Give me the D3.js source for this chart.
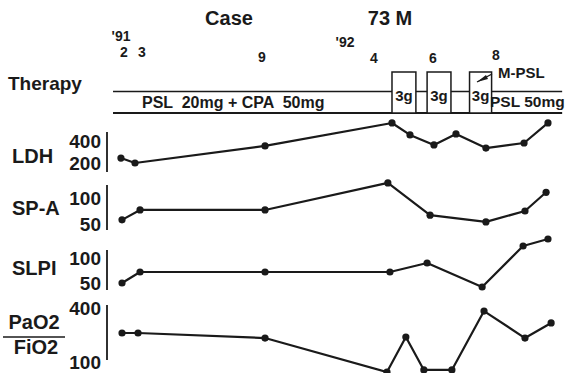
<!DOCTYPE html>
<html><head><meta charset="utf-8">
<script src="https://cdn.jsdelivr.net/npm/d3@7"></script>
<style>
html,body{margin:0;padding:0;background:#fff;}
svg text{font-family:"Liberation Sans",Arial,Helvetica,sans-serif;font-weight:bold;fill:#1a1a1a;white-space:pre;}
</style></head>
<body><svg id="c" width="567" height="373"></svg>
<script>
// ---- data ----
// time in months counted from Jan 1991 = 1 (so Apr 1992 = 16)
const monthLabels = ["2","3","9","4","6","8"];
const monthTimes  = [2, 3, 9, 16, 18, 20];
const yearLabels  = ["'91","'92"];
const yearTimes   = [2, 15.5];

const ldhTime  = [1.83, 2.61, 9.19, 16.61, 17.22, 18.03, 18.73, 19.68, 20.89, 21.65];
const ldhVal   = [245, 200, 355, 564, 455, 364, 464, 336, 382, 564];
const ldhTicks = [200, 400];

const spaTime  = [1.89, 2.89, 9.19, 16.47, 17.9, 19.68, 20.92, 21.59];
const spaVal   = [58, 77, 77, 129, 67, 54, 75, 111];
const spaTicks = [50, 100];

const slpiTime  = [1.89, 2.89, 9.19, 16.54, 17.8, 19.56, 20.86, 21.65];
const slpiVal   = [50, 72, 72, 72, 90, 42, 124, 138];
const slpiTicks = [50, 100];

const pfTime  = [1.89, 2.78, 9.19, 16.44, 17.08, 17.69, 18.6, 19.62, 20.92, 21.75];
const pfVal   = [261, 261, 233, 44, 239, 56, 56, 383, 233, 317];
const pfTicks = [100, 400];

// M-PSL pulses (start, end in months)
const pulseStart = [16.61, 17.8, 19.16];
const pulseEnd   = [17.42, 18.57, 19.86];
const pulseLabel = ["3g","3g","3g"];
const therapyStart = 1.39, therapyEnd = 22.1;

// ---- drawing ----
const svg = d3.select("#c");
const x = d3.scaleLinear().domain(monthTimes).range([124, 142, 262, 374, 433, 496]);

function txt(s, px, py, size, anchor) {
  return svg.append("text").attr("x", px).attr("y", py)
    .attr("font-size", size).attr("text-anchor", anchor || "start").text(s);
}

// title
txt("Case", 229, 25, 20, "middle");
txt("73 M", 390, 25, 20, "middle");

// time labels
const mOff = [57, 57, 62, 63, 63, 60];
monthLabels.forEach((m, i) => txt(m, x(monthTimes[i]), mOff[i], 14, "middle"));
const yOff = [41, 47];
const yX = [121, 345];
yearLabels.forEach((m, i) => txt(m, yX[i], yOff[i], 14, "middle"));

// therapy
txt("Therapy", 8, 90, 19);
const g = svg.append("g").attr("stroke", "#1a1a1a").attr("fill", "none");
g.append("line").attr("x1", x(therapyStart)).attr("x2", x(therapyEnd))
  .attr("y1", 91.5).attr("y2", 91.5).attr("stroke-width", 1.6);
g.append("line").attr("x1", x(therapyStart)).attr("x2", x(therapyEnd))
  .attr("y1", 113).attr("y2", 113).attr("stroke-width", 1.8);
pulseStart.forEach((s, i) => {
  g.append("rect").attr("x", x(s)).attr("y", 72)
    .attr("width", x(pulseEnd[i]) - x(s)).attr("height", 41)
    .attr("fill", "#fff").attr("stroke-width", 1.5);
  txt(pulseLabel[i], (x(s) + x(pulseEnd[i])) / 2, 101, 15, "middle");
});
txt("PSL  20mg + CPA  50mg", 142, 108, 16);
txt("PSL 50mg", 490, 107, 15.5);
txt("M-PSL", 498, 78, 15);
g.append("line").attr("x1", 477).attr("y1", 82).attr("x2", 492).attr("y2", 74).attr("stroke-width", 1.3);
svg.append("path").attr("d", "M477,82 L486,75 L488,79 Z").attr("fill", "#1a1a1a");

// panels
const panels = [
  {name:"LDH", t:ldhTime, v:ldhVal, ticks:ldhTicks, dom:[200,400], rng:[163,141], ax:[132,172], ly:163},
  {name:"SP-A", t:spaTime, v:spaVal, ticks:spaTicks, dom:[50,100], rng:[224,198], ax:[185,230], ly:215},
  {name:"SLPI", t:slpiTime, v:slpiVal, ticks:slpiTicks, dom:[50,100], rng:[283,258], ax:[250,290], ly:275},
  {name:"PaO2/FiO2", t:pfTime, v:pfVal, ticks:pfTicks, dom:[100,400], rng:[362,308], ax:[305,360], ly:null}
];

panels.forEach(p => {
  const y = d3.scaleLinear().domain(p.dom).range(p.rng);
  if (p.ly !== null) {
    txt(p.name, 12, p.ly, 20);
  } else {
    const parts = p.name.split("/");
    txt(parts[0], 34, 329, 20, "middle");
    txt(parts[1], 36, 354, 20, "middle");
    svg.append("line").attr("x1", 3).attr("x2", 65).attr("y1", 337).attr("y2", 337)
      .attr("stroke", "#1a1a1a").attr("stroke-width", 1.6);
  }
  // axis
  const axis = d3.axisLeft(y).tickValues(p.ticks).tickSize(0).tickPadding(6);
  const ag = svg.append("g").attr("transform", "translate(107,0)").call(axis);
  ag.select(".domain").remove();
  ag.selectAll("text").attr("font-size", 19).attr("fill", "#1a1a1a")
    .attr("font-family", "Liberation Sans, Arial, sans-serif").attr("font-weight", "bold");
  svg.append("line").attr("x1", 107).attr("x2", 107).attr("y1", p.ax[0]).attr("y2", p.ax[1])
    .attr("stroke", "#1a1a1a").attr("stroke-width", 1.8);
  const pts = p.t.map((t, i) => [t, p.v[i]]);
  const line = d3.line().x(d => x(d[0])).y(d => y(d[1]));
  svg.append("path").datum(pts).attr("d", line).attr("fill", "none")
    .attr("stroke", "#1a1a1a").attr("stroke-width", 2.2).attr("stroke-linejoin", "round");
  svg.append("g").selectAll("circle").data(pts).join("circle")
    .attr("cx", d => x(d[0])).attr("cy", d => y(d[1])).attr("r", 3.6).attr("fill", "#1a1a1a");
});
</script></body></html>
